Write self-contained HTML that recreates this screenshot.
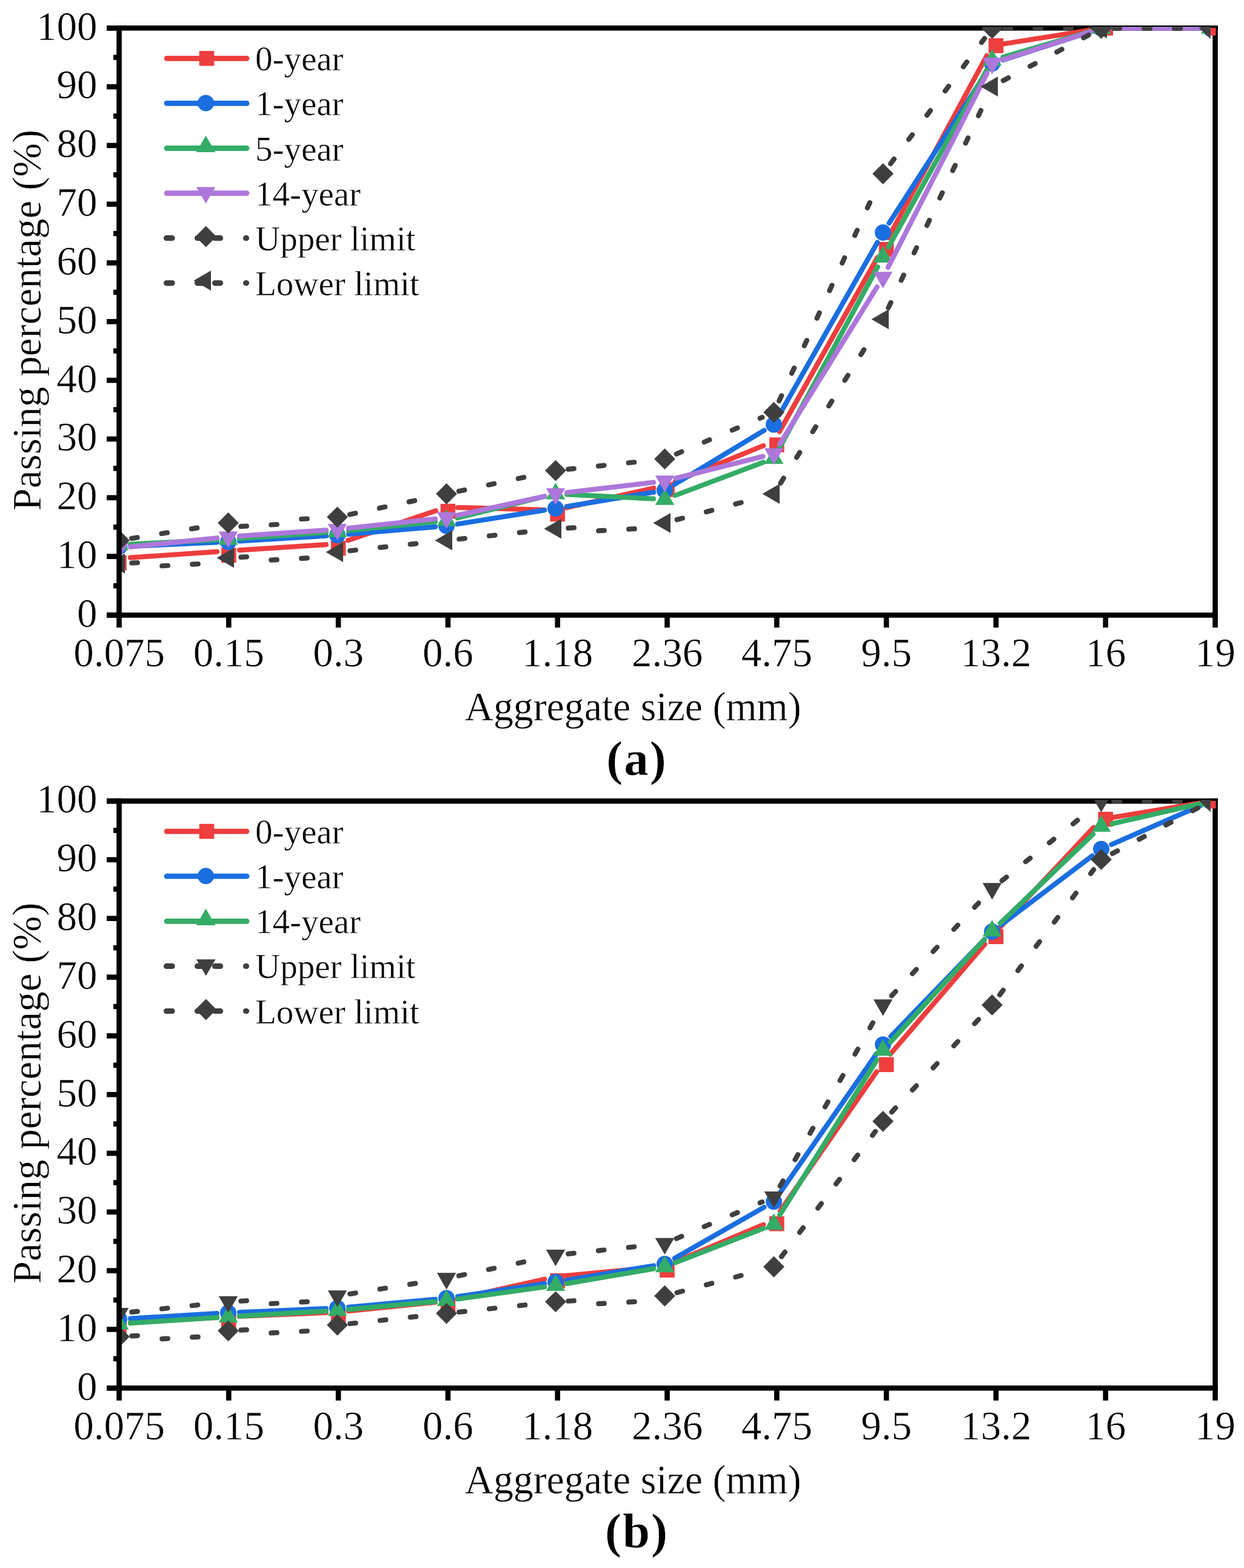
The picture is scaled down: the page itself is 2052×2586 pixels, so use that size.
<!DOCTYPE html><html><head><meta charset="utf-8"><title>Gradation curves</title><style>html,body{margin:0;padding:0;background:#fff;}svg{display:block;}text{font-family:"Liberation Serif", serif;fill:#000;stroke:#fff;stroke-width:0.5px;}.tl{font-size:67px;}.at{font-size:67px;}.lg{font-size:57px;}.pl{font-size:81px;font-weight:bold;}</style></head><body>
<svg width="2052" height="2586" viewBox="0 0 2052 2586">
<rect width="2052" height="2586" fill="#fff"/>
<clipPath id="caD"><rect x="196.5" y="44.5" width="1800" height="964.2"/></clipPath>
<clipPath id="caA"><rect x="196.5" y="46" width="1809" height="964.2"/></clipPath>
<line x1="176" y1="46.3" x2="2008.8" y2="46.3" stroke="#000" stroke-width="8.6"/>
<line x1="2004.5" y1="42" x2="2004.5" y2="1014.5" stroke="#000" stroke-width="8.6"/>
<g clip-path="url(#caD)">
<line x1="215.06" y1="919.7" x2="357.94" y2="909.8" stroke="#EE3D3E" stroke-width="8.2" stroke-linecap="round"/>
<line x1="395.06" y1="907.32" x2="537.94" y2="898.18" stroke="#EE3D3E" stroke-width="8.2" stroke-linecap="round"/>
<line x1="574.13" y1="891.07" x2="718.87" y2="842.46" stroke="#EE3D3E" stroke-width="8.2" stroke-linecap="round"/>
<line x1="755.09" y1="837.03" x2="897.91" y2="840.84" stroke="#EE3D3E" stroke-width="8.2" stroke-linecap="round"/>
<line x1="934.65" y1="837.27" x2="1078.35" y2="805.09" stroke="#EE3D3E" stroke-width="8.2" stroke-linecap="round"/>
<line x1="1113.74" y1="794.04" x2="1259.26" y2="735.07" stroke="#EE3D3E" stroke-width="8.2" stroke-linecap="round"/>
<line x1="1285.63" y1="711.88" x2="1447.37" y2="424.71" stroke="#EE3D3E" stroke-width="8.2" stroke-linecap="round"/>
<line x1="1465.34" y1="392.14" x2="1627.66" y2="91.85" stroke="#EE3D3E" stroke-width="8.2" stroke-linecap="round"/>
<line x1="1654.87" y1="72.55" x2="1798.13" y2="49.64" stroke="#EE3D3E" stroke-width="8.2" stroke-linecap="round"/>
<line x1="1835.1" y1="46.7" x2="1977.9" y2="46.7" stroke="#EE3D3E" stroke-width="8.2" stroke-linecap="round"/>
</g>
<g clip-path="url(#caA)">
<rect x="184.2" y="916.03" width="24.6" height="24.6" fill="#EE3D3E"/>
<rect x="365" y="903.44" width="24.6" height="24.6" fill="#EE3D3E"/>
<rect x="545.8" y="891.83" width="24.6" height="24.6" fill="#EE3D3E"/>
<rect x="726.6" y="830.83" width="24.6" height="24.6" fill="#EE3D3E"/>
<rect x="907.4" y="835.67" width="24.6" height="24.6" fill="#EE3D3E"/>
<rect x="1088.2" y="795.01" width="24.6" height="24.6" fill="#EE3D3E"/>
<rect x="1269" y="721.42" width="24.6" height="24.6" fill="#EE3D3E"/>
<rect x="1449.8" y="399.01" width="24.6" height="24.6" fill="#EE3D3E"/>
<rect x="1630.6" y="63.05" width="24.6" height="24.6" fill="#EE3D3E"/>
<rect x="1811.4" y="34" width="24.6" height="24.6" fill="#EE3D3E"/>
<rect x="1992.2" y="34" width="24.6" height="24.6" fill="#EE3D3E"/>
</g>
<g clip-path="url(#caD)">
<line x1="215.08" y1="900.95" x2="357.92" y2="894.48" stroke="#1A6EE0" stroke-width="8.2" stroke-linecap="round"/>
<line x1="395.07" y1="892.5" x2="537.93" y2="883.74" stroke="#1A6EE0" stroke-width="8.2" stroke-linecap="round"/>
<line x1="575.03" y1="881.02" x2="717.97" y2="868.82" stroke="#1A6EE0" stroke-width="8.2" stroke-linecap="round"/>
<line x1="754.87" y1="864.31" x2="898.13" y2="841.39" stroke="#1A6EE0" stroke-width="8.2" stroke-linecap="round"/>
<line x1="934.85" y1="835.42" x2="1078.15" y2="811.73" stroke="#1A6EE0" stroke-width="8.2" stroke-linecap="round"/>
<line x1="1112.43" y1="799.1" x2="1260.57" y2="709.85" stroke="#1A6EE0" stroke-width="8.2" stroke-linecap="round"/>
<line x1="1285.69" y1="684.09" x2="1447.31" y2="399.73" stroke="#1A6EE0" stroke-width="8.2" stroke-linecap="round"/>
<line x1="1466.59" y1="367.93" x2="1626.41" y2="120.39" stroke="#1A6EE0" stroke-width="8.2" stroke-linecap="round"/>
<line x1="1654.2" y1="99.05" x2="1798.8" y2="52.41" stroke="#1A6EE0" stroke-width="8.2" stroke-linecap="round"/>
<line x1="1835.1" y1="46.7" x2="1977.9" y2="46.7" stroke="#1A6EE0" stroke-width="8.2" stroke-linecap="round"/>
<circle cx="196.5" cy="901.79" r="13.5" fill="#1A6EE0"/>
<circle cx="376.5" cy="893.64" r="13.5" fill="#1A6EE0"/>
<circle cx="556.5" cy="882.6" r="13.5" fill="#1A6EE0"/>
<circle cx="736.5" cy="867.24" r="13.5" fill="#1A6EE0"/>
<circle cx="916.5" cy="838.45" r="13.5" fill="#1A6EE0"/>
<circle cx="1096.5" cy="808.7" r="13.5" fill="#1A6EE0"/>
<circle cx="1276.5" cy="700.26" r="13.5" fill="#1A6EE0"/>
<circle cx="1456.5" cy="383.55" r="13.5" fill="#1A6EE0"/>
<circle cx="1636.5" cy="104.76" r="13.5" fill="#1A6EE0"/>
<circle cx="1816.5" cy="46.7" r="13.5" fill="#1A6EE0"/>
<circle cx="1996.5" cy="46.7" r="13.5" fill="#1A6EE0"/>
</g>
<g clip-path="url(#caD)">
<line x1="215.08" y1="897.49" x2="357.92" y2="890.26" stroke="#33AC66" stroke-width="8.2" stroke-linecap="round"/>
<line x1="395.06" y1="888.03" x2="537.94" y2="878.13" stroke="#33AC66" stroke-width="8.2" stroke-linecap="round"/>
<line x1="575.01" y1="874.97" x2="717.99" y2="860.48" stroke="#33AC66" stroke-width="8.2" stroke-linecap="round"/>
<line x1="754.56" y1="854.18" x2="898.44" y2="818.89" stroke="#33AC66" stroke-width="8.2" stroke-linecap="round"/>
<line x1="935.08" y1="815.4" x2="1077.92" y2="822.64" stroke="#33AC66" stroke-width="8.2" stroke-linecap="round"/>
<line x1="1113.91" y1="817.03" x2="1259.09" y2="762.46" stroke="#33AC66" stroke-width="8.2" stroke-linecap="round"/>
<line x1="1285.36" y1="739.57" x2="1447.64" y2="440.21" stroke="#33AC66" stroke-width="8.2" stroke-linecap="round"/>
<line x1="1465.52" y1="407.6" x2="1627.48" y2="115.75" stroke="#33AC66" stroke-width="8.2" stroke-linecap="round"/>
<line x1="1654.35" y1="94.25" x2="1798.65" y2="51.93" stroke="#33AC66" stroke-width="8.2" stroke-linecap="round"/>
<line x1="1835.1" y1="46.7" x2="1977.9" y2="46.7" stroke="#33AC66" stroke-width="8.2" stroke-linecap="round"/>
<polygon points="196.5,880.25 212.25,907.53 180.75,907.53" fill="#33AC66"/>
<polygon points="376.5,871.13 392.25,898.41 360.75,898.41" fill="#33AC66"/>
<polygon points="556.5,858.65 572.25,885.93 540.75,885.93" fill="#33AC66"/>
<polygon points="736.5,840.42 752.25,867.7 720.75,867.7" fill="#33AC66"/>
<polygon points="916.5,796.27 932.25,823.55 900.75,823.55" fill="#33AC66"/>
<polygon points="1096.5,805.39 1112.25,832.67 1080.75,832.67" fill="#33AC66"/>
<polygon points="1276.5,737.73 1292.25,765.01 1260.75,765.01" fill="#33AC66"/>
<polygon points="1456.5,405.68 1472.25,432.96 1440.75,432.96" fill="#33AC66"/>
<polygon points="1636.5,81.3 1652.25,108.58 1620.75,108.58" fill="#33AC66"/>
<polygon points="1816.5,28.51 1832.25,55.79 1800.75,55.79" fill="#33AC66"/>
<polygon points="1996.5,28.51 2012.25,55.79 1980.75,55.79" fill="#33AC66"/>
</g>
<g clip-path="url(#caD)">
<line x1="215.01" y1="901.84" x2="357.99" y2="887.35" stroke="#AD77DB" stroke-width="8.2" stroke-linecap="round"/>
<line x1="395.06" y1="884.19" x2="537.94" y2="874.29" stroke="#AD77DB" stroke-width="8.2" stroke-linecap="round"/>
<line x1="575" y1="871.03" x2="718" y2="855.78" stroke="#AD77DB" stroke-width="8.2" stroke-linecap="round"/>
<line x1="754.67" y1="849.84" x2="898.33" y2="818.43" stroke="#AD77DB" stroke-width="8.2" stroke-linecap="round"/>
<line x1="934.97" y1="812.29" x2="1078.03" y2="795.51" stroke="#AD77DB" stroke-width="8.2" stroke-linecap="round"/>
<line x1="1114.54" y1="788.83" x2="1258.46" y2="752.76" stroke="#AD77DB" stroke-width="8.2" stroke-linecap="round"/>
<line x1="1286.29" y1="732.43" x2="1446.71" y2="473.27" stroke="#AD77DB" stroke-width="8.2" stroke-linecap="round"/>
<line x1="1464.95" y1="440.88" x2="1628.05" y2="120.85" stroke="#AD77DB" stroke-width="8.2" stroke-linecap="round"/>
<line x1="1654.22" y1="98.61" x2="1798.78" y2="52.37" stroke="#AD77DB" stroke-width="8.2" stroke-linecap="round"/>
<line x1="1835.1" y1="46.7" x2="1977.9" y2="46.7" stroke="#AD77DB" stroke-width="8.2" stroke-linecap="round"/>
<polygon points="180.75,894.62 212.25,894.62 196.5,921.9" fill="#AD77DB"/>
<polygon points="360.75,876.38 392.25,876.38 376.5,903.66" fill="#AD77DB"/>
<polygon points="540.75,863.91 572.25,863.91 556.5,891.19" fill="#AD77DB"/>
<polygon points="720.75,844.71 752.25,844.71 736.5,871.99" fill="#AD77DB"/>
<polygon points="900.75,805.37 932.25,805.37 916.5,832.65" fill="#AD77DB"/>
<polygon points="1080.75,784.25 1112.25,784.25 1096.5,811.53" fill="#AD77DB"/>
<polygon points="1260.75,739.15 1292.25,739.15 1276.5,766.43" fill="#AD77DB"/>
<polygon points="1440.75,448.36 1472.25,448.36 1456.5,475.64" fill="#AD77DB"/>
<polygon points="1620.75,95.19 1652.25,95.19 1636.5,122.47" fill="#AD77DB"/>
<polygon points="1800.75,37.61 1832.25,37.61 1816.5,64.89" fill="#AD77DB"/>
<polygon points="1980.75,37.61 2012.25,37.61 1996.5,64.89" fill="#AD77DB"/>
</g>
<g clip-path="url(#caD)">
<line x1="217.14" y1="887.94" x2="226.52" y2="886.43" stroke="#3F3F3F" stroke-width="8.2" stroke-linecap="round"/>
<line x1="266.51" y1="880.04" x2="275.89" y2="878.54" stroke="#3F3F3F" stroke-width="8.2" stroke-linecap="round"/>
<line x1="315.88" y1="872.14" x2="325.26" y2="870.64" stroke="#3F3F3F" stroke-width="8.2" stroke-linecap="round"/>
<line x1="397.37" y1="868.2" x2="406.86" y2="867.69" stroke="#3F3F3F" stroke-width="8.2" stroke-linecap="round"/>
<line x1="447.3" y1="865.52" x2="456.79" y2="865.01" stroke="#3F3F3F" stroke-width="8.2" stroke-linecap="round"/>
<line x1="497.23" y1="856.01" x2="506.72" y2="855.5" stroke="#3F3F3F" stroke-width="8.2" stroke-linecap="round"/>
<line x1="576.94" y1="848.49" x2="586.23" y2="846.51" stroke="#3F3F3F" stroke-width="8.2" stroke-linecap="round"/>
<line x1="625.84" y1="838.06" x2="635.13" y2="836.08" stroke="#3F3F3F" stroke-width="8.2" stroke-linecap="round"/>
<line x1="674.74" y1="827.63" x2="684.03" y2="825.65" stroke="#3F3F3F" stroke-width="8.2" stroke-linecap="round"/>
<line x1="756.94" y1="810.1" x2="766.23" y2="808.12" stroke="#3F3F3F" stroke-width="8.2" stroke-linecap="round"/>
<line x1="805.84" y1="799.67" x2="815.13" y2="797.69" stroke="#3F3F3F" stroke-width="8.2" stroke-linecap="round"/>
<line x1="854.74" y1="789.24" x2="864.03" y2="787.26" stroke="#3F3F3F" stroke-width="8.2" stroke-linecap="round"/>
<line x1="937.28" y1="773.86" x2="946.73" y2="772.85" stroke="#3F3F3F" stroke-width="8.2" stroke-linecap="round"/>
<line x1="987" y1="768.55" x2="996.45" y2="767.55" stroke="#3F3F3F" stroke-width="8.2" stroke-linecap="round"/>
<line x1="1036.72" y1="763.25" x2="1046.16" y2="762.25" stroke="#3F3F3F" stroke-width="8.2" stroke-linecap="round"/>
<line x1="1115.72" y1="748.68" x2="1124.46" y2="744.95" stroke="#3F3F3F" stroke-width="8.2" stroke-linecap="round"/>
<line x1="1161.72" y1="729.06" x2="1170.45" y2="725.33" stroke="#3F3F3F" stroke-width="8.2" stroke-linecap="round"/>
<line x1="1207.71" y1="709.44" x2="1216.44" y2="705.72" stroke="#3F3F3F" stroke-width="8.2" stroke-linecap="round"/>
<line x1="1253.7" y1="689.83" x2="1257.28" y2="688.3" stroke="#3F3F3F" stroke-width="8.2" stroke-linecap="round"/>
<line x1="1285.19" y1="661.1" x2="1289.15" y2="652.46" stroke="#3F3F3F" stroke-width="8.2" stroke-linecap="round"/>
<line x1="1305.99" y1="615.63" x2="1309.95" y2="606.99" stroke="#3F3F3F" stroke-width="8.2" stroke-linecap="round"/>
<line x1="1326.79" y1="570.16" x2="1330.75" y2="561.52" stroke="#3F3F3F" stroke-width="8.2" stroke-linecap="round"/>
<line x1="1347.59" y1="524.69" x2="1351.55" y2="516.05" stroke="#3F3F3F" stroke-width="8.2" stroke-linecap="round"/>
<line x1="1368.39" y1="479.22" x2="1372.35" y2="470.58" stroke="#3F3F3F" stroke-width="8.2" stroke-linecap="round"/>
<line x1="1389.19" y1="433.75" x2="1393.15" y2="425.12" stroke="#3F3F3F" stroke-width="8.2" stroke-linecap="round"/>
<line x1="1409.99" y1="388.29" x2="1413.95" y2="379.65" stroke="#3F3F3F" stroke-width="8.2" stroke-linecap="round"/>
<line x1="1430.79" y1="342.82" x2="1434.75" y2="334.18" stroke="#3F3F3F" stroke-width="8.2" stroke-linecap="round"/>
<line x1="1469.04" y1="269.91" x2="1474.74" y2="262.31" stroke="#3F3F3F" stroke-width="8.2" stroke-linecap="round"/>
<line x1="1499.05" y1="229.91" x2="1504.75" y2="222.31" stroke="#3F3F3F" stroke-width="8.2" stroke-linecap="round"/>
<line x1="1529.05" y1="189.92" x2="1534.76" y2="182.32" stroke="#3F3F3F" stroke-width="8.2" stroke-linecap="round"/>
<line x1="1559.06" y1="149.92" x2="1564.76" y2="142.32" stroke="#3F3F3F" stroke-width="8.2" stroke-linecap="round"/>
<line x1="1589.07" y1="109.92" x2="1594.77" y2="102.33" stroke="#3F3F3F" stroke-width="8.2" stroke-linecap="round"/>
<line x1="1619.07" y1="69.93" x2="1623.96" y2="63.42" stroke="#3F3F3F" stroke-width="8.2" stroke-linecap="round"/>
<line x1="1657.4" y1="46.7" x2="1666.9" y2="46.7" stroke="#3F3F3F" stroke-width="8.2" stroke-linecap="round"/>
<line x1="1707.4" y1="46.7" x2="1716.9" y2="46.7" stroke="#3F3F3F" stroke-width="8.2" stroke-linecap="round"/>
<line x1="1757.4" y1="46.7" x2="1766.9" y2="46.7" stroke="#3F3F3F" stroke-width="8.2" stroke-linecap="round"/>
<line x1="1837.4" y1="46.7" x2="1846.9" y2="46.7" stroke="#3F3F3F" stroke-width="8.2" stroke-linecap="round"/>
<line x1="1887.4" y1="46.7" x2="1896.9" y2="46.7" stroke="#3F3F3F" stroke-width="8.2" stroke-linecap="round"/>
<line x1="1937.4" y1="46.7" x2="1946.9" y2="46.7" stroke="#3F3F3F" stroke-width="8.2" stroke-linecap="round"/>
<polygon points="196.5,873.84 213.9,891.24 196.5,908.64 179.1,891.24" fill="#3F3F3F"/>
<polygon points="376.5,845.04 393.9,862.44 376.5,879.84 359.1,862.44" fill="#3F3F3F"/>
<polygon points="556.5,835.45 573.9,852.85 556.5,870.25 539.1,852.85" fill="#3F3F3F"/>
<polygon points="736.5,797.06 753.9,814.46 736.5,831.86 719.1,814.46" fill="#3F3F3F"/>
<polygon points="916.5,758.67 933.9,776.07 916.5,793.47 899.1,776.07" fill="#3F3F3F"/>
<polygon points="1096.5,739.48 1113.9,756.88 1096.5,774.28 1079.1,756.88" fill="#3F3F3F"/>
<polygon points="1276.5,662.7 1293.9,680.1 1276.5,697.5 1259.1,680.1" fill="#3F3F3F"/>
<polygon points="1456.5,269.23 1473.9,286.62 1456.5,304.02 1439.1,286.62" fill="#3F3F3F"/>
<polygon points="1636.5,29.3 1653.9,46.7 1636.5,64.1 1619.1,46.7" fill="#3F3F3F"/>
<polygon points="1816.5,29.3 1833.9,46.7 1816.5,64.1 1799.1,46.7" fill="#3F3F3F"/>
<polygon points="1996.5,29.3 2013.9,46.7 1996.5,64.1 1979.1,46.7" fill="#3F3F3F"/>
</g>
<g clip-path="url(#caD)">
<line x1="217.37" y1="928.51" x2="226.86" y2="928.01" stroke="#3F3F3F" stroke-width="8.2" stroke-linecap="round"/>
<line x1="267.3" y1="933.25" x2="276.79" y2="932.74" stroke="#3F3F3F" stroke-width="8.2" stroke-linecap="round"/>
<line x1="317.23" y1="930.58" x2="326.72" y2="930.07" stroke="#3F3F3F" stroke-width="8.2" stroke-linecap="round"/>
<line x1="397.37" y1="918.91" x2="406.86" y2="918.41" stroke="#3F3F3F" stroke-width="8.2" stroke-linecap="round"/>
<line x1="447.3" y1="923.61" x2="456.79" y2="923.11" stroke="#3F3F3F" stroke-width="8.2" stroke-linecap="round"/>
<line x1="497.23" y1="920.94" x2="506.72" y2="920.43" stroke="#3F3F3F" stroke-width="8.2" stroke-linecap="round"/>
<line x1="577.28" y1="908.21" x2="586.73" y2="907.21" stroke="#3F3F3F" stroke-width="8.2" stroke-linecap="round"/>
<line x1="627" y1="902.91" x2="636.45" y2="901.91" stroke="#3F3F3F" stroke-width="8.2" stroke-linecap="round"/>
<line x1="676.72" y1="897.61" x2="686.16" y2="896.6" stroke="#3F3F3F" stroke-width="8.2" stroke-linecap="round"/>
<line x1="757.28" y1="889.02" x2="766.73" y2="888.01" stroke="#3F3F3F" stroke-width="8.2" stroke-linecap="round"/>
<line x1="807" y1="883.72" x2="816.45" y2="882.71" stroke="#3F3F3F" stroke-width="8.2" stroke-linecap="round"/>
<line x1="856.72" y1="878.42" x2="866.16" y2="877.41" stroke="#3F3F3F" stroke-width="8.2" stroke-linecap="round"/>
<line x1="937.37" y1="870.93" x2="946.86" y2="870.42" stroke="#3F3F3F" stroke-width="8.2" stroke-linecap="round"/>
<line x1="987.3" y1="875.33" x2="996.79" y2="874.82" stroke="#3F3F3F" stroke-width="8.2" stroke-linecap="round"/>
<line x1="1037.23" y1="872.66" x2="1046.72" y2="872.15" stroke="#3F3F3F" stroke-width="8.2" stroke-linecap="round"/>
<line x1="1116.69" y1="857.06" x2="1125.87" y2="854.61" stroke="#3F3F3F" stroke-width="8.2" stroke-linecap="round"/>
<line x1="1165.01" y1="844.18" x2="1174.19" y2="841.73" stroke="#3F3F3F" stroke-width="8.2" stroke-linecap="round"/>
<line x1="1213.32" y1="831.3" x2="1222.5" y2="828.86" stroke="#3F3F3F" stroke-width="8.2" stroke-linecap="round"/>
<line x1="1287.58" y1="796.74" x2="1292.62" y2="788.68" stroke="#3F3F3F" stroke-width="8.2" stroke-linecap="round"/>
<line x1="1314.09" y1="754.34" x2="1319.12" y2="746.29" stroke="#3F3F3F" stroke-width="8.2" stroke-linecap="round"/>
<line x1="1340.59" y1="711.95" x2="1345.63" y2="703.89" stroke="#3F3F3F" stroke-width="8.2" stroke-linecap="round"/>
<line x1="1367.1" y1="669.55" x2="1372.13" y2="661.49" stroke="#3F3F3F" stroke-width="8.2" stroke-linecap="round"/>
<line x1="1393.6" y1="627.15" x2="1398.64" y2="619.1" stroke="#3F3F3F" stroke-width="8.2" stroke-linecap="round"/>
<line x1="1420.11" y1="584.76" x2="1425.15" y2="576.7" stroke="#3F3F3F" stroke-width="8.2" stroke-linecap="round"/>
<line x1="1465.37" y1="507.63" x2="1469.41" y2="499.03" stroke="#3F3F3F" stroke-width="8.2" stroke-linecap="round"/>
<line x1="1486.6" y1="462.36" x2="1490.63" y2="453.76" stroke="#3F3F3F" stroke-width="8.2" stroke-linecap="round"/>
<line x1="1507.83" y1="417.09" x2="1511.86" y2="408.48" stroke="#3F3F3F" stroke-width="8.2" stroke-linecap="round"/>
<line x1="1529.05" y1="371.82" x2="1533.09" y2="363.21" stroke="#3F3F3F" stroke-width="8.2" stroke-linecap="round"/>
<line x1="1550.28" y1="326.55" x2="1554.31" y2="317.94" stroke="#3F3F3F" stroke-width="8.2" stroke-linecap="round"/>
<line x1="1571.51" y1="281.27" x2="1575.54" y2="272.67" stroke="#3F3F3F" stroke-width="8.2" stroke-linecap="round"/>
<line x1="1592.74" y1="236" x2="1596.77" y2="227.4" stroke="#3F3F3F" stroke-width="8.2" stroke-linecap="round"/>
<line x1="1613.96" y1="190.73" x2="1618" y2="182.13" stroke="#3F3F3F" stroke-width="8.2" stroke-linecap="round"/>
<line x1="1654.94" y1="132.84" x2="1663.33" y2="128.37" stroke="#3F3F3F" stroke-width="8.2" stroke-linecap="round"/>
<line x1="1699.06" y1="109.31" x2="1707.45" y2="104.84" stroke="#3F3F3F" stroke-width="8.2" stroke-linecap="round"/>
<line x1="1743.18" y1="85.79" x2="1751.57" y2="81.32" stroke="#3F3F3F" stroke-width="8.2" stroke-linecap="round"/>
<line x1="1787.3" y1="62.27" x2="1795.69" y2="57.8" stroke="#3F3F3F" stroke-width="8.2" stroke-linecap="round"/>
<line x1="1837.4" y1="46.7" x2="1846.9" y2="46.7" stroke="#3F3F3F" stroke-width="8.2" stroke-linecap="round"/>
<line x1="1887.4" y1="46.7" x2="1896.9" y2="46.7" stroke="#3F3F3F" stroke-width="8.2" stroke-linecap="round"/>
<line x1="1937.4" y1="46.7" x2="1946.9" y2="46.7" stroke="#3F3F3F" stroke-width="8.2" stroke-linecap="round"/>
<polygon points="177.45,929.62 206.03,913.12 206.03,946.12" fill="#3F3F3F"/>
<polygon points="357.45,920.03 386.03,903.53 386.03,936.53" fill="#3F3F3F"/>
<polygon points="537.45,910.43 566.03,893.93 566.03,926.93" fill="#3F3F3F"/>
<polygon points="717.45,891.24 746.03,874.74 746.03,907.74" fill="#3F3F3F"/>
<polygon points="897.45,872.04 926.03,855.54 926.03,888.54" fill="#3F3F3F"/>
<polygon points="1077.45,862.44 1106.03,845.94 1106.03,878.94" fill="#3F3F3F"/>
<polygon points="1257.45,814.46 1286.03,797.96 1286.03,830.96" fill="#3F3F3F"/>
<polygon points="1437.45,526.55 1466.03,510.05 1466.03,543.05" fill="#3F3F3F"/>
<polygon points="1617.45,142.67 1646.03,126.17 1646.03,159.17" fill="#3F3F3F"/>
<polygon points="1797.45,46.7 1826.03,30.2 1826.03,63.2" fill="#3F3F3F"/>
<polygon points="1977.45,46.7 2006.03,30.2 2006.03,63.2" fill="#3F3F3F"/>
</g>
<line x1="196.5" y1="42" x2="196.5" y2="1018.8" stroke="#000" stroke-width="8.6"/>
<line x1="176" y1="1014.5" x2="2008.8" y2="1014.5" stroke="#000" stroke-width="8.6"/>
<line x1="176" y1="1014.5" x2="196.5" y2="1014.5" stroke="#000" stroke-width="8.6"/>
<line x1="187" y1="966.09" x2="196.5" y2="966.09" stroke="#000" stroke-width="8.6"/>
<line x1="176" y1="917.68" x2="196.5" y2="917.68" stroke="#000" stroke-width="8.6"/>
<line x1="187" y1="869.27" x2="196.5" y2="869.27" stroke="#000" stroke-width="8.6"/>
<line x1="176" y1="820.86" x2="196.5" y2="820.86" stroke="#000" stroke-width="8.6"/>
<line x1="187" y1="772.45" x2="196.5" y2="772.45" stroke="#000" stroke-width="8.6"/>
<line x1="176" y1="724.04" x2="196.5" y2="724.04" stroke="#000" stroke-width="8.6"/>
<line x1="187" y1="675.63" x2="196.5" y2="675.63" stroke="#000" stroke-width="8.6"/>
<line x1="176" y1="627.22" x2="196.5" y2="627.22" stroke="#000" stroke-width="8.6"/>
<line x1="187" y1="578.81" x2="196.5" y2="578.81" stroke="#000" stroke-width="8.6"/>
<line x1="176" y1="530.4" x2="196.5" y2="530.4" stroke="#000" stroke-width="8.6"/>
<line x1="187" y1="481.99" x2="196.5" y2="481.99" stroke="#000" stroke-width="8.6"/>
<line x1="176" y1="433.58" x2="196.5" y2="433.58" stroke="#000" stroke-width="8.6"/>
<line x1="187" y1="385.17" x2="196.5" y2="385.17" stroke="#000" stroke-width="8.6"/>
<line x1="176" y1="336.76" x2="196.5" y2="336.76" stroke="#000" stroke-width="8.6"/>
<line x1="187" y1="288.35" x2="196.5" y2="288.35" stroke="#000" stroke-width="8.6"/>
<line x1="176" y1="239.94" x2="196.5" y2="239.94" stroke="#000" stroke-width="8.6"/>
<line x1="187" y1="191.53" x2="196.5" y2="191.53" stroke="#000" stroke-width="8.6"/>
<line x1="176" y1="143.12" x2="196.5" y2="143.12" stroke="#000" stroke-width="8.6"/>
<line x1="187" y1="94.71" x2="196.5" y2="94.71" stroke="#000" stroke-width="8.6"/>
<line x1="176" y1="46.3" x2="196.5" y2="46.3" stroke="#000" stroke-width="8.6"/>
<line x1="196.5" y1="1014.5" x2="196.5" y2="1035" stroke="#000" stroke-width="8.6"/>
<line x1="377.3" y1="1014.5" x2="377.3" y2="1035" stroke="#000" stroke-width="8.6"/>
<line x1="558.1" y1="1014.5" x2="558.1" y2="1035" stroke="#000" stroke-width="8.6"/>
<line x1="738.9" y1="1014.5" x2="738.9" y2="1035" stroke="#000" stroke-width="8.6"/>
<line x1="919.7" y1="1014.5" x2="919.7" y2="1035" stroke="#000" stroke-width="8.6"/>
<line x1="1100.5" y1="1014.5" x2="1100.5" y2="1035" stroke="#000" stroke-width="8.6"/>
<line x1="1281.3" y1="1014.5" x2="1281.3" y2="1035" stroke="#000" stroke-width="8.6"/>
<line x1="1462.1" y1="1014.5" x2="1462.1" y2="1035" stroke="#000" stroke-width="8.6"/>
<line x1="1642.9" y1="1014.5" x2="1642.9" y2="1035" stroke="#000" stroke-width="8.6"/>
<line x1="1823.7" y1="1014.5" x2="1823.7" y2="1035" stroke="#000" stroke-width="8.6"/>
<line x1="2004.5" y1="1014.5" x2="2004.5" y2="1035" stroke="#000" stroke-width="8.6"/>
<text x="160.5" y="1033.8" text-anchor="end" class="tl">0</text>
<text x="160.5" y="936.98" text-anchor="end" class="tl">10</text>
<text x="160.5" y="840.16" text-anchor="end" class="tl">20</text>
<text x="160.5" y="743.34" text-anchor="end" class="tl">30</text>
<text x="160.5" y="646.52" text-anchor="end" class="tl">40</text>
<text x="160.5" y="549.7" text-anchor="end" class="tl">50</text>
<text x="160.5" y="452.88" text-anchor="end" class="tl">60</text>
<text x="160.5" y="356.06" text-anchor="end" class="tl">70</text>
<text x="160.5" y="259.24" text-anchor="end" class="tl">80</text>
<text x="160.5" y="162.42" text-anchor="end" class="tl">90</text>
<text x="160.5" y="65.6" text-anchor="end" class="tl">100</text>
<text x="196.5" y="1099.2" text-anchor="middle" class="tl">0.075</text>
<text x="377.3" y="1099.2" text-anchor="middle" class="tl">0.15</text>
<text x="558.1" y="1099.2" text-anchor="middle" class="tl">0.3</text>
<text x="738.9" y="1099.2" text-anchor="middle" class="tl">0.6</text>
<text x="919.7" y="1099.2" text-anchor="middle" class="tl">1.18</text>
<text x="1100.5" y="1099.2" text-anchor="middle" class="tl">2.36</text>
<text x="1281.3" y="1099.2" text-anchor="middle" class="tl">4.75</text>
<text x="1462.1" y="1099.2" text-anchor="middle" class="tl">9.5</text>
<text x="1642.9" y="1099.2" text-anchor="middle" class="tl">13.2</text>
<text x="1823.7" y="1099.2" text-anchor="middle" class="tl">16</text>
<text x="2004.5" y="1099.2" text-anchor="middle" class="tl">19</text>
<text transform="translate(1044,1188.4) scale(0.982,1)" text-anchor="middle" class="at">Aggregate size (mm)</text>
<text transform="translate(66.8,528) rotate(-90)" text-anchor="middle" class="at">Passing percentage (%)</text>
<text x="1050.5" y="1277.5" text-anchor="middle" class="pl" letter-spacing="2">(a)</text>
<line x1="275" y1="96.3" x2="407" y2="96.3" stroke="#EE3D3E" stroke-width="8.8" stroke-linecap="round"/>
<rect x="328.7" y="84" width="24.6" height="24.6" fill="#EE3D3E"/>
<text x="421" y="116.3" class="lg">0-year</text>
<line x1="275" y1="170.4" x2="407" y2="170.4" stroke="#1A6EE0" stroke-width="8.8" stroke-linecap="round"/>
<circle cx="339.5" cy="169.9" r="13.5" fill="#1A6EE0"/>
<text x="421" y="190.4" class="lg">1-year</text>
<line x1="275" y1="244.5" x2="407" y2="244.5" stroke="#33AC66" stroke-width="8.8" stroke-linecap="round"/>
<polygon points="339.5,223.81 355.25,251.09 323.75,251.09" fill="#33AC66"/>
<text x="421" y="264.5" class="lg">5-year</text>
<line x1="275" y1="318.6" x2="407" y2="318.6" stroke="#AD77DB" stroke-width="8.8" stroke-linecap="round"/>
<polygon points="323.75,308.51 355.25,308.51 339.5,335.79" fill="#AD77DB"/>
<text x="421" y="338.6" class="lg">14-year</text>
<line x1="274.5" y1="392.7" x2="284" y2="392.7" stroke="#3F3F3F" stroke-width="9.2" stroke-linecap="round"/>
<line x1="325.5" y1="392.7" x2="334" y2="392.7" stroke="#3F3F3F" stroke-width="9.2" stroke-linecap="round"/>
<line x1="354.5" y1="392.7" x2="363.5" y2="392.7" stroke="#3F3F3F" stroke-width="9.2" stroke-linecap="round"/>
<line x1="405.5" y1="392.7" x2="406.5" y2="392.7" stroke="#3F3F3F" stroke-width="9.2" stroke-linecap="round"/>
<polygon points="339.7,372.8 357.1,390.2 339.7,407.6 322.3,390.2" fill="#3F3F3F"/>
<text x="421" y="412.7" class="lg">Upper limit</text>
<line x1="274.5" y1="466.8" x2="284" y2="466.8" stroke="#3F3F3F" stroke-width="9.2" stroke-linecap="round"/>
<line x1="325.5" y1="466.8" x2="334" y2="466.8" stroke="#3F3F3F" stroke-width="9.2" stroke-linecap="round"/>
<line x1="354.5" y1="466.8" x2="363.5" y2="466.8" stroke="#3F3F3F" stroke-width="9.2" stroke-linecap="round"/>
<line x1="405.5" y1="466.8" x2="406.5" y2="466.8" stroke="#3F3F3F" stroke-width="9.2" stroke-linecap="round"/>
<polygon points="319.45,462.8 348.03,446.3 348.03,479.3" fill="#3F3F3F"/>
<text x="421" y="486.8" class="lg">Lower limit</text>
<clipPath id="cbD"><rect x="196.5" y="1319.3" width="1800" height="964.2"/></clipPath>
<clipPath id="cbA"><rect x="196.5" y="1320.8" width="1809" height="964.2"/></clipPath>
<line x1="176" y1="1321.1" x2="2008.8" y2="1321.1" stroke="#000" stroke-width="8.6"/>
<line x1="2004.5" y1="1316.8" x2="2004.5" y2="2289.3" stroke="#000" stroke-width="8.6"/>
<g clip-path="url(#cbD)">
<line x1="215.07" y1="2181.26" x2="357.93" y2="2172.88" stroke="#EE3D3E" stroke-width="8.2" stroke-linecap="round"/>
<line x1="395.08" y1="2171" x2="537.92" y2="2164.91" stroke="#EE3D3E" stroke-width="8.2" stroke-linecap="round"/>
<line x1="575.01" y1="2162.24" x2="717.99" y2="2147.76" stroke="#EE3D3E" stroke-width="8.2" stroke-linecap="round"/>
<line x1="754.65" y1="2141.82" x2="898.35" y2="2109.64" stroke="#EE3D3E" stroke-width="8.2" stroke-linecap="round"/>
<line x1="935.01" y1="2103.8" x2="1077.99" y2="2090.08" stroke="#EE3D3E" stroke-width="8.2" stroke-linecap="round"/>
<line x1="1113.64" y1="2081.08" x2="1259.36" y2="2019.7" stroke="#EE3D3E" stroke-width="8.2" stroke-linecap="round"/>
<line x1="1287.09" y1="1997.19" x2="1445.91" y2="1767.7" stroke="#EE3D3E" stroke-width="8.2" stroke-linecap="round"/>
<line x1="1468.63" y1="1738.31" x2="1624.37" y2="1557.29" stroke="#EE3D3E" stroke-width="8.2" stroke-linecap="round"/>
<line x1="1649.22" y1="1529.62" x2="1803.78" y2="1364.82" stroke="#EE3D3E" stroke-width="8.2" stroke-linecap="round"/>
<line x1="1834.85" y1="1348.22" x2="1978.15" y2="1324.53" stroke="#EE3D3E" stroke-width="8.2" stroke-linecap="round"/>
</g>
<g clip-path="url(#cbA)">
<rect x="184.2" y="2177.28" width="24.6" height="24.6" fill="#EE3D3E"/>
<rect x="365" y="2166.63" width="24.6" height="24.6" fill="#EE3D3E"/>
<rect x="545.8" y="2158.88" width="24.6" height="24.6" fill="#EE3D3E"/>
<rect x="726.6" y="2140.48" width="24.6" height="24.6" fill="#EE3D3E"/>
<rect x="907.4" y="2099.82" width="24.6" height="24.6" fill="#EE3D3E"/>
<rect x="1088.2" y="2082.39" width="24.6" height="24.6" fill="#EE3D3E"/>
<rect x="1269" y="2005.9" width="24.6" height="24.6" fill="#EE3D3E"/>
<rect x="1449.8" y="1743.52" width="24.6" height="24.6" fill="#EE3D3E"/>
<rect x="1630.6" y="1532.45" width="24.6" height="24.6" fill="#EE3D3E"/>
<rect x="1811.4" y="1338.81" width="24.6" height="24.6" fill="#EE3D3E"/>
<rect x="1992.2" y="1308.8" width="24.6" height="24.6" fill="#EE3D3E"/>
</g>
<g clip-path="url(#cbD)">
<line x1="215.07" y1="2174.54" x2="357.93" y2="2166.17" stroke="#1A6EE0" stroke-width="8.2" stroke-linecap="round"/>
<line x1="395.08" y1="2164.28" x2="537.92" y2="2158.19" stroke="#1A6EE0" stroke-width="8.2" stroke-linecap="round"/>
<line x1="575.02" y1="2155.72" x2="717.98" y2="2142.76" stroke="#1A6EE0" stroke-width="8.2" stroke-linecap="round"/>
<line x1="754.9" y1="2138.34" x2="898.1" y2="2116.96" stroke="#1A6EE0" stroke-width="8.2" stroke-linecap="round"/>
<line x1="934.85" y1="2111.18" x2="1078.15" y2="2087.49" stroke="#1A6EE0" stroke-width="8.2" stroke-linecap="round"/>
<line x1="1112.66" y1="2075.24" x2="1260.34" y2="1990.99" stroke="#1A6EE0" stroke-width="8.2" stroke-linecap="round"/>
<line x1="1287.11" y1="1966.5" x2="1445.89" y2="1737.93" stroke="#1A6EE0" stroke-width="8.2" stroke-linecap="round"/>
<line x1="1469.43" y1="1709.28" x2="1623.57" y2="1549.85" stroke="#1A6EE0" stroke-width="8.2" stroke-linecap="round"/>
<line x1="1651.33" y1="1525.25" x2="1801.67" y2="1411.42" stroke="#1A6EE0" stroke-width="8.2" stroke-linecap="round"/>
<line x1="1833.54" y1="1392.74" x2="1979.46" y2="1328.95" stroke="#1A6EE0" stroke-width="8.2" stroke-linecap="round"/>
<circle cx="196.5" cy="2175.63" r="13.5" fill="#1A6EE0"/>
<circle cx="376.5" cy="2165.08" r="13.5" fill="#1A6EE0"/>
<circle cx="556.5" cy="2157.4" r="13.5" fill="#1A6EE0"/>
<circle cx="736.5" cy="2141.08" r="13.5" fill="#1A6EE0"/>
<circle cx="916.5" cy="2114.21" r="13.5" fill="#1A6EE0"/>
<circle cx="1096.5" cy="2084.46" r="13.5" fill="#1A6EE0"/>
<circle cx="1276.5" cy="1981.77" r="13.5" fill="#1A6EE0"/>
<circle cx="1456.5" cy="1722.65" r="13.5" fill="#1A6EE0"/>
<circle cx="1636.5" cy="1536.47" r="13.5" fill="#1A6EE0"/>
<circle cx="1816.5" cy="1400.2" r="13.5" fill="#1A6EE0"/>
<circle cx="1996.5" cy="1321.5" r="13.5" fill="#1A6EE0"/>
</g>
<g clip-path="url(#cbD)">
<line x1="215.06" y1="2182.12" x2="357.94" y2="2172.98" stroke="#33AC66" stroke-width="8.2" stroke-linecap="round"/>
<line x1="395.07" y1="2170.71" x2="537.93" y2="2162.33" stroke="#33AC66" stroke-width="8.2" stroke-linecap="round"/>
<line x1="575.02" y1="2159.56" x2="717.98" y2="2146.6" stroke="#33AC66" stroke-width="8.2" stroke-linecap="round"/>
<line x1="754.92" y1="2142.37" x2="898.08" y2="2122.52" stroke="#33AC66" stroke-width="8.2" stroke-linecap="round"/>
<line x1="934.84" y1="2116.84" x2="1078.16" y2="2092.39" stroke="#33AC66" stroke-width="8.2" stroke-linecap="round"/>
<line x1="1113.83" y1="2082.51" x2="1259.17" y2="2025.95" stroke="#33AC66" stroke-width="8.2" stroke-linecap="round"/>
<line x1="1286.38" y1="2003.45" x2="1446.62" y2="1748.01" stroke="#33AC66" stroke-width="8.2" stroke-linecap="round"/>
<line x1="1469.06" y1="1718.53" x2="1623.94" y2="1549.24" stroke="#33AC66" stroke-width="8.2" stroke-linecap="round"/>
<line x1="1649.92" y1="1522.63" x2="1803.08" y2="1375.65" stroke="#33AC66" stroke-width="8.2" stroke-linecap="round"/>
<line x1="1834.63" y1="1358.61" x2="1978.37" y2="1325.66" stroke="#33AC66" stroke-width="8.2" stroke-linecap="round"/>
<polygon points="196.5,2165.12 212.25,2192.4 180.75,2192.4" fill="#33AC66"/>
<polygon points="376.5,2153.61 392.25,2180.89 360.75,2180.89" fill="#33AC66"/>
<polygon points="556.5,2143.05 572.25,2170.33 540.75,2170.33" fill="#33AC66"/>
<polygon points="736.5,2126.74 752.25,2154.02 720.75,2154.02" fill="#33AC66"/>
<polygon points="916.5,2101.78 932.25,2129.06 900.75,2129.06" fill="#33AC66"/>
<polygon points="1096.5,2071.07 1112.25,2098.35 1080.75,2098.35" fill="#33AC66"/>
<polygon points="1276.5,2001.02 1292.25,2028.3 1260.75,2028.3" fill="#33AC66"/>
<polygon points="1456.5,1714.07 1472.25,1741.34 1440.75,1741.34" fill="#33AC66"/>
<polygon points="1636.5,1517.33 1652.25,1544.61 1620.75,1544.61" fill="#33AC66"/>
<polygon points="1816.5,1344.58 1832.25,1371.86 1800.75,1371.86" fill="#33AC66"/>
<polygon points="1996.5,1303.31 2012.25,1330.59 1980.75,1330.59" fill="#33AC66"/>
</g>
<g clip-path="url(#cbD)">
<line x1="217.28" y1="2163.82" x2="226.73" y2="2162.81" stroke="#3F3F3F" stroke-width="8.2" stroke-linecap="round"/>
<line x1="267" y1="2158.52" x2="276.45" y2="2157.51" stroke="#3F3F3F" stroke-width="8.2" stroke-linecap="round"/>
<line x1="316.72" y1="2153.22" x2="326.16" y2="2152.21" stroke="#3F3F3F" stroke-width="8.2" stroke-linecap="round"/>
<line x1="397.37" y1="2145.73" x2="406.86" y2="2145.22" stroke="#3F3F3F" stroke-width="8.2" stroke-linecap="round"/>
<line x1="447.3" y1="2150" x2="456.79" y2="2149.5" stroke="#3F3F3F" stroke-width="8.2" stroke-linecap="round"/>
<line x1="497.23" y1="2147.33" x2="506.72" y2="2146.82" stroke="#3F3F3F" stroke-width="8.2" stroke-linecap="round"/>
<line x1="577.14" y1="2133.94" x2="586.52" y2="2132.44" stroke="#3F3F3F" stroke-width="8.2" stroke-linecap="round"/>
<line x1="626.51" y1="2126.05" x2="635.89" y2="2124.55" stroke="#3F3F3F" stroke-width="8.2" stroke-linecap="round"/>
<line x1="675.88" y1="2118.15" x2="685.26" y2="2116.65" stroke="#3F3F3F" stroke-width="8.2" stroke-linecap="round"/>
<line x1="756.94" y1="2104.09" x2="766.23" y2="2102.11" stroke="#3F3F3F" stroke-width="8.2" stroke-linecap="round"/>
<line x1="805.84" y1="2093.67" x2="815.13" y2="2091.68" stroke="#3F3F3F" stroke-width="8.2" stroke-linecap="round"/>
<line x1="854.74" y1="2083.24" x2="864.03" y2="2081.26" stroke="#3F3F3F" stroke-width="8.2" stroke-linecap="round"/>
<line x1="937.28" y1="2067.85" x2="946.73" y2="2066.84" stroke="#3F3F3F" stroke-width="8.2" stroke-linecap="round"/>
<line x1="987" y1="2062.55" x2="996.45" y2="2061.54" stroke="#3F3F3F" stroke-width="8.2" stroke-linecap="round"/>
<line x1="1036.72" y1="2057.25" x2="1046.16" y2="2056.24" stroke="#3F3F3F" stroke-width="8.2" stroke-linecap="round"/>
<line x1="1115.72" y1="2042.67" x2="1124.46" y2="2038.95" stroke="#3F3F3F" stroke-width="8.2" stroke-linecap="round"/>
<line x1="1161.72" y1="2023.06" x2="1170.45" y2="2019.33" stroke="#3F3F3F" stroke-width="8.2" stroke-linecap="round"/>
<line x1="1207.71" y1="2003.44" x2="1216.44" y2="1999.71" stroke="#3F3F3F" stroke-width="8.2" stroke-linecap="round"/>
<line x1="1253.7" y1="1983.82" x2="1257.28" y2="1982.3" stroke="#3F3F3F" stroke-width="8.2" stroke-linecap="round"/>
<line x1="1286.83" y1="1955.93" x2="1291.52" y2="1947.67" stroke="#3F3F3F" stroke-width="8.2" stroke-linecap="round"/>
<line x1="1311.53" y1="1912.46" x2="1316.23" y2="1904.2" stroke="#3F3F3F" stroke-width="8.2" stroke-linecap="round"/>
<line x1="1336.24" y1="1868.99" x2="1340.93" y2="1860.73" stroke="#3F3F3F" stroke-width="8.2" stroke-linecap="round"/>
<line x1="1360.95" y1="1825.52" x2="1365.64" y2="1817.26" stroke="#3F3F3F" stroke-width="8.2" stroke-linecap="round"/>
<line x1="1385.65" y1="1782.05" x2="1390.35" y2="1773.79" stroke="#3F3F3F" stroke-width="8.2" stroke-linecap="round"/>
<line x1="1410.36" y1="1738.58" x2="1415.05" y2="1730.32" stroke="#3F3F3F" stroke-width="8.2" stroke-linecap="round"/>
<line x1="1435.07" y1="1695.11" x2="1439.76" y2="1686.85" stroke="#3F3F3F" stroke-width="8.2" stroke-linecap="round"/>
<line x1="1470.8" y1="1642.15" x2="1477.3" y2="1635.22" stroke="#3F3F3F" stroke-width="8.2" stroke-linecap="round"/>
<line x1="1505" y1="1605.68" x2="1511.5" y2="1598.75" stroke="#3F3F3F" stroke-width="8.2" stroke-linecap="round"/>
<line x1="1539.2" y1="1569.21" x2="1545.7" y2="1562.28" stroke="#3F3F3F" stroke-width="8.2" stroke-linecap="round"/>
<line x1="1573.4" y1="1532.74" x2="1579.9" y2="1525.81" stroke="#3F3F3F" stroke-width="8.2" stroke-linecap="round"/>
<line x1="1607.61" y1="1496.26" x2="1614.11" y2="1489.33" stroke="#3F3F3F" stroke-width="8.2" stroke-linecap="round"/>
<line x1="1652.82" y1="1452.4" x2="1660.24" y2="1446.47" stroke="#3F3F3F" stroke-width="8.2" stroke-linecap="round"/>
<line x1="1691.87" y1="1421.17" x2="1699.29" y2="1415.24" stroke="#3F3F3F" stroke-width="8.2" stroke-linecap="round"/>
<line x1="1730.92" y1="1389.94" x2="1738.34" y2="1384.01" stroke="#3F3F3F" stroke-width="8.2" stroke-linecap="round"/>
<line x1="1769.97" y1="1358.71" x2="1777.39" y2="1352.78" stroke="#3F3F3F" stroke-width="8.2" stroke-linecap="round"/>
<line x1="1837.4" y1="1321.5" x2="1846.9" y2="1321.5" stroke="#3F3F3F" stroke-width="8.2" stroke-linecap="round"/>
<line x1="1887.4" y1="1321.5" x2="1896.9" y2="1321.5" stroke="#3F3F3F" stroke-width="8.2" stroke-linecap="round"/>
<line x1="1937.4" y1="1321.5" x2="1946.9" y2="1321.5" stroke="#3F3F3F" stroke-width="8.2" stroke-linecap="round"/>
<polygon points="180.75,2156.94 212.25,2156.94 196.5,2184.22" fill="#3F3F3F"/>
<polygon points="360.75,2137.75 392.25,2137.75 376.5,2165.03" fill="#3F3F3F"/>
<polygon points="540.75,2128.15 572.25,2128.15 556.5,2155.43" fill="#3F3F3F"/>
<polygon points="720.75,2099.36 752.25,2099.36 736.5,2126.64" fill="#3F3F3F"/>
<polygon points="900.75,2060.97 932.25,2060.97 916.5,2088.25" fill="#3F3F3F"/>
<polygon points="1080.75,2041.78 1112.25,2041.78 1096.5,2069.06" fill="#3F3F3F"/>
<polygon points="1260.75,1965 1292.25,1965 1276.5,1992.28" fill="#3F3F3F"/>
<polygon points="1440.75,1648.3 1472.25,1648.3 1456.5,1675.58" fill="#3F3F3F"/>
<polygon points="1620.75,1456.36 1652.25,1456.36 1636.5,1483.64" fill="#3F3F3F"/>
<polygon points="1800.75,1312.41 1832.25,1312.41 1816.5,1339.69" fill="#3F3F3F"/>
<polygon points="1980.75,1312.41 2012.25,1312.41 1996.5,1339.69" fill="#3F3F3F"/>
</g>
<g clip-path="url(#cbD)">
<line x1="217.37" y1="2203.31" x2="226.86" y2="2202.81" stroke="#3F3F3F" stroke-width="8.2" stroke-linecap="round"/>
<line x1="267.3" y1="2208.05" x2="276.79" y2="2207.54" stroke="#3F3F3F" stroke-width="8.2" stroke-linecap="round"/>
<line x1="317.23" y1="2205.38" x2="326.72" y2="2204.87" stroke="#3F3F3F" stroke-width="8.2" stroke-linecap="round"/>
<line x1="397.37" y1="2193.71" x2="406.86" y2="2193.21" stroke="#3F3F3F" stroke-width="8.2" stroke-linecap="round"/>
<line x1="447.3" y1="2198.41" x2="456.79" y2="2197.91" stroke="#3F3F3F" stroke-width="8.2" stroke-linecap="round"/>
<line x1="497.23" y1="2195.74" x2="506.72" y2="2195.23" stroke="#3F3F3F" stroke-width="8.2" stroke-linecap="round"/>
<line x1="577.28" y1="2183.01" x2="586.73" y2="2182.01" stroke="#3F3F3F" stroke-width="8.2" stroke-linecap="round"/>
<line x1="627" y1="2177.71" x2="636.45" y2="2176.71" stroke="#3F3F3F" stroke-width="8.2" stroke-linecap="round"/>
<line x1="676.72" y1="2172.41" x2="686.16" y2="2171.4" stroke="#3F3F3F" stroke-width="8.2" stroke-linecap="round"/>
<line x1="757.28" y1="2163.82" x2="766.73" y2="2162.81" stroke="#3F3F3F" stroke-width="8.2" stroke-linecap="round"/>
<line x1="807" y1="2158.52" x2="816.45" y2="2157.51" stroke="#3F3F3F" stroke-width="8.2" stroke-linecap="round"/>
<line x1="856.72" y1="2153.22" x2="866.16" y2="2152.21" stroke="#3F3F3F" stroke-width="8.2" stroke-linecap="round"/>
<line x1="937.37" y1="2145.73" x2="946.86" y2="2145.22" stroke="#3F3F3F" stroke-width="8.2" stroke-linecap="round"/>
<line x1="987.3" y1="2150.13" x2="996.79" y2="2149.62" stroke="#3F3F3F" stroke-width="8.2" stroke-linecap="round"/>
<line x1="1037.23" y1="2147.46" x2="1046.72" y2="2146.95" stroke="#3F3F3F" stroke-width="8.2" stroke-linecap="round"/>
<line x1="1116.69" y1="2131.86" x2="1125.87" y2="2129.41" stroke="#3F3F3F" stroke-width="8.2" stroke-linecap="round"/>
<line x1="1165.01" y1="2118.98" x2="1174.19" y2="2116.53" stroke="#3F3F3F" stroke-width="8.2" stroke-linecap="round"/>
<line x1="1213.32" y1="2106.1" x2="1222.5" y2="2103.66" stroke="#3F3F3F" stroke-width="8.2" stroke-linecap="round"/>
<line x1="1289.04" y1="2072.54" x2="1294.74" y2="2064.94" stroke="#3F3F3F" stroke-width="8.2" stroke-linecap="round"/>
<line x1="1319.05" y1="2032.55" x2="1324.75" y2="2024.95" stroke="#3F3F3F" stroke-width="8.2" stroke-linecap="round"/>
<line x1="1349.05" y1="1992.55" x2="1354.76" y2="1984.95" stroke="#3F3F3F" stroke-width="8.2" stroke-linecap="round"/>
<line x1="1379.06" y1="1952.56" x2="1384.76" y2="1944.96" stroke="#3F3F3F" stroke-width="8.2" stroke-linecap="round"/>
<line x1="1409.07" y1="1912.56" x2="1414.77" y2="1904.96" stroke="#3F3F3F" stroke-width="8.2" stroke-linecap="round"/>
<line x1="1439.07" y1="1872.56" x2="1443.96" y2="1866.05" stroke="#3F3F3F" stroke-width="8.2" stroke-linecap="round"/>
<line x1="1470.8" y1="1834.09" x2="1477.3" y2="1827.16" stroke="#3F3F3F" stroke-width="8.2" stroke-linecap="round"/>
<line x1="1505" y1="1797.62" x2="1511.5" y2="1790.69" stroke="#3F3F3F" stroke-width="8.2" stroke-linecap="round"/>
<line x1="1539.2" y1="1761.15" x2="1545.7" y2="1754.22" stroke="#3F3F3F" stroke-width="8.2" stroke-linecap="round"/>
<line x1="1573.4" y1="1724.68" x2="1579.9" y2="1717.75" stroke="#3F3F3F" stroke-width="8.2" stroke-linecap="round"/>
<line x1="1607.61" y1="1688.2" x2="1614.11" y2="1681.27" stroke="#3F3F3F" stroke-width="8.2" stroke-linecap="round"/>
<line x1="1649.04" y1="1640.68" x2="1654.74" y2="1633.08" stroke="#3F3F3F" stroke-width="8.2" stroke-linecap="round"/>
<line x1="1679.05" y1="1600.68" x2="1684.75" y2="1593.08" stroke="#3F3F3F" stroke-width="8.2" stroke-linecap="round"/>
<line x1="1709.05" y1="1560.69" x2="1714.76" y2="1553.09" stroke="#3F3F3F" stroke-width="8.2" stroke-linecap="round"/>
<line x1="1739.06" y1="1520.69" x2="1744.76" y2="1513.09" stroke="#3F3F3F" stroke-width="8.2" stroke-linecap="round"/>
<line x1="1769.07" y1="1480.69" x2="1774.77" y2="1473.1" stroke="#3F3F3F" stroke-width="8.2" stroke-linecap="round"/>
<line x1="1799.07" y1="1440.7" x2="1803.96" y2="1434.19" stroke="#3F3F3F" stroke-width="8.2" stroke-linecap="round"/>
<line x1="1834.94" y1="1407.64" x2="1843.33" y2="1403.17" stroke="#3F3F3F" stroke-width="8.2" stroke-linecap="round"/>
<line x1="1879.06" y1="1384.11" x2="1887.45" y2="1379.64" stroke="#3F3F3F" stroke-width="8.2" stroke-linecap="round"/>
<line x1="1923.18" y1="1360.59" x2="1931.57" y2="1356.12" stroke="#3F3F3F" stroke-width="8.2" stroke-linecap="round"/>
<line x1="1967.3" y1="1337.07" x2="1975.69" y2="1332.6" stroke="#3F3F3F" stroke-width="8.2" stroke-linecap="round"/>
<polygon points="196.5,2187.02 213.9,2204.42 196.5,2221.82 179.1,2204.42" fill="#3F3F3F"/>
<polygon points="376.5,2177.43 393.9,2194.83 376.5,2212.23 359.1,2194.83" fill="#3F3F3F"/>
<polygon points="556.5,2167.83 573.9,2185.23 556.5,2202.63 539.1,2185.23" fill="#3F3F3F"/>
<polygon points="736.5,2148.64 753.9,2166.04 736.5,2183.44 719.1,2166.04" fill="#3F3F3F"/>
<polygon points="916.5,2129.44 933.9,2146.84 916.5,2164.24 899.1,2146.84" fill="#3F3F3F"/>
<polygon points="1096.5,2119.84 1113.9,2137.24 1096.5,2154.64 1079.1,2137.24" fill="#3F3F3F"/>
<polygon points="1276.5,2071.86 1293.9,2089.26 1276.5,2106.66 1259.1,2089.26" fill="#3F3F3F"/>
<polygon points="1456.5,1831.93 1473.9,1849.33 1456.5,1866.73 1439.1,1849.33" fill="#3F3F3F"/>
<polygon points="1636.5,1639.99 1653.9,1657.39 1636.5,1674.8 1619.1,1657.39" fill="#3F3F3F"/>
<polygon points="1816.5,1400.07 1833.9,1417.47 1816.5,1434.87 1799.1,1417.47" fill="#3F3F3F"/>
<polygon points="1996.5,1304.1 2013.9,1321.5 1996.5,1338.9 1979.1,1321.5" fill="#3F3F3F"/>
</g>
<line x1="196.5" y1="1316.8" x2="196.5" y2="2293.6" stroke="#000" stroke-width="8.6"/>
<line x1="176" y1="2289.3" x2="2008.8" y2="2289.3" stroke="#000" stroke-width="8.6"/>
<line x1="176" y1="2289.3" x2="196.5" y2="2289.3" stroke="#000" stroke-width="8.6"/>
<line x1="187" y1="2240.89" x2="196.5" y2="2240.89" stroke="#000" stroke-width="8.6"/>
<line x1="176" y1="2192.48" x2="196.5" y2="2192.48" stroke="#000" stroke-width="8.6"/>
<line x1="187" y1="2144.07" x2="196.5" y2="2144.07" stroke="#000" stroke-width="8.6"/>
<line x1="176" y1="2095.66" x2="196.5" y2="2095.66" stroke="#000" stroke-width="8.6"/>
<line x1="187" y1="2047.25" x2="196.5" y2="2047.25" stroke="#000" stroke-width="8.6"/>
<line x1="176" y1="1998.84" x2="196.5" y2="1998.84" stroke="#000" stroke-width="8.6"/>
<line x1="187" y1="1950.43" x2="196.5" y2="1950.43" stroke="#000" stroke-width="8.6"/>
<line x1="176" y1="1902.02" x2="196.5" y2="1902.02" stroke="#000" stroke-width="8.6"/>
<line x1="187" y1="1853.61" x2="196.5" y2="1853.61" stroke="#000" stroke-width="8.6"/>
<line x1="176" y1="1805.2" x2="196.5" y2="1805.2" stroke="#000" stroke-width="8.6"/>
<line x1="187" y1="1756.79" x2="196.5" y2="1756.79" stroke="#000" stroke-width="8.6"/>
<line x1="176" y1="1708.38" x2="196.5" y2="1708.38" stroke="#000" stroke-width="8.6"/>
<line x1="187" y1="1659.97" x2="196.5" y2="1659.97" stroke="#000" stroke-width="8.6"/>
<line x1="176" y1="1611.56" x2="196.5" y2="1611.56" stroke="#000" stroke-width="8.6"/>
<line x1="187" y1="1563.15" x2="196.5" y2="1563.15" stroke="#000" stroke-width="8.6"/>
<line x1="176" y1="1514.74" x2="196.5" y2="1514.74" stroke="#000" stroke-width="8.6"/>
<line x1="187" y1="1466.33" x2="196.5" y2="1466.33" stroke="#000" stroke-width="8.6"/>
<line x1="176" y1="1417.92" x2="196.5" y2="1417.92" stroke="#000" stroke-width="8.6"/>
<line x1="187" y1="1369.51" x2="196.5" y2="1369.51" stroke="#000" stroke-width="8.6"/>
<line x1="176" y1="1321.1" x2="196.5" y2="1321.1" stroke="#000" stroke-width="8.6"/>
<line x1="196.5" y1="2289.3" x2="196.5" y2="2309.8" stroke="#000" stroke-width="8.6"/>
<line x1="377.3" y1="2289.3" x2="377.3" y2="2309.8" stroke="#000" stroke-width="8.6"/>
<line x1="558.1" y1="2289.3" x2="558.1" y2="2309.8" stroke="#000" stroke-width="8.6"/>
<line x1="738.9" y1="2289.3" x2="738.9" y2="2309.8" stroke="#000" stroke-width="8.6"/>
<line x1="919.7" y1="2289.3" x2="919.7" y2="2309.8" stroke="#000" stroke-width="8.6"/>
<line x1="1100.5" y1="2289.3" x2="1100.5" y2="2309.8" stroke="#000" stroke-width="8.6"/>
<line x1="1281.3" y1="2289.3" x2="1281.3" y2="2309.8" stroke="#000" stroke-width="8.6"/>
<line x1="1462.1" y1="2289.3" x2="1462.1" y2="2309.8" stroke="#000" stroke-width="8.6"/>
<line x1="1642.9" y1="2289.3" x2="1642.9" y2="2309.8" stroke="#000" stroke-width="8.6"/>
<line x1="1823.7" y1="2289.3" x2="1823.7" y2="2309.8" stroke="#000" stroke-width="8.6"/>
<line x1="2004.5" y1="2289.3" x2="2004.5" y2="2309.8" stroke="#000" stroke-width="8.6"/>
<text x="160.5" y="2308.6" text-anchor="end" class="tl">0</text>
<text x="160.5" y="2211.78" text-anchor="end" class="tl">10</text>
<text x="160.5" y="2114.96" text-anchor="end" class="tl">20</text>
<text x="160.5" y="2018.14" text-anchor="end" class="tl">30</text>
<text x="160.5" y="1921.32" text-anchor="end" class="tl">40</text>
<text x="160.5" y="1824.5" text-anchor="end" class="tl">50</text>
<text x="160.5" y="1727.68" text-anchor="end" class="tl">60</text>
<text x="160.5" y="1630.86" text-anchor="end" class="tl">70</text>
<text x="160.5" y="1534.04" text-anchor="end" class="tl">80</text>
<text x="160.5" y="1437.22" text-anchor="end" class="tl">90</text>
<text x="160.5" y="1340.4" text-anchor="end" class="tl">100</text>
<text x="196.5" y="2374" text-anchor="middle" class="tl">0.075</text>
<text x="377.3" y="2374" text-anchor="middle" class="tl">0.15</text>
<text x="558.1" y="2374" text-anchor="middle" class="tl">0.3</text>
<text x="738.9" y="2374" text-anchor="middle" class="tl">0.6</text>
<text x="919.7" y="2374" text-anchor="middle" class="tl">1.18</text>
<text x="1100.5" y="2374" text-anchor="middle" class="tl">2.36</text>
<text x="1281.3" y="2374" text-anchor="middle" class="tl">4.75</text>
<text x="1462.1" y="2374" text-anchor="middle" class="tl">9.5</text>
<text x="1642.9" y="2374" text-anchor="middle" class="tl">13.2</text>
<text x="1823.7" y="2374" text-anchor="middle" class="tl">16</text>
<text x="2004.5" y="2374" text-anchor="middle" class="tl">19</text>
<text transform="translate(1044,2463.2) scale(0.982,1)" text-anchor="middle" class="at">Aggregate size (mm)</text>
<text transform="translate(66.8,1802.8) rotate(-90)" text-anchor="middle" class="at">Passing percentage (%)</text>
<text x="1050.5" y="2552.3" text-anchor="middle" class="pl" letter-spacing="2">(b)</text>
<line x1="275" y1="1371.1" x2="407" y2="1371.1" stroke="#EE3D3E" stroke-width="8.8" stroke-linecap="round"/>
<rect x="328.7" y="1358.8" width="24.6" height="24.6" fill="#EE3D3E"/>
<text x="421" y="1391.1" class="lg">0-year</text>
<line x1="275" y1="1445.2" x2="407" y2="1445.2" stroke="#1A6EE0" stroke-width="8.8" stroke-linecap="round"/>
<circle cx="339.5" cy="1444.7" r="13.5" fill="#1A6EE0"/>
<text x="421" y="1465.2" class="lg">1-year</text>
<line x1="275" y1="1519.3" x2="407" y2="1519.3" stroke="#33AC66" stroke-width="8.8" stroke-linecap="round"/>
<polygon points="339.5,1498.61 355.25,1525.89 323.75,1525.89" fill="#33AC66"/>
<text x="421" y="1539.3" class="lg">14-year</text>
<line x1="274.5" y1="1593.4" x2="284" y2="1593.4" stroke="#3F3F3F" stroke-width="9.2" stroke-linecap="round"/>
<line x1="325.5" y1="1593.4" x2="334" y2="1593.4" stroke="#3F3F3F" stroke-width="9.2" stroke-linecap="round"/>
<line x1="354.5" y1="1593.4" x2="363.5" y2="1593.4" stroke="#3F3F3F" stroke-width="9.2" stroke-linecap="round"/>
<line x1="405.5" y1="1593.4" x2="406.5" y2="1593.4" stroke="#3F3F3F" stroke-width="9.2" stroke-linecap="round"/>
<polygon points="323.95,1582.31 355.45,1582.31 339.7,1609.59" fill="#3F3F3F"/>
<text x="421" y="1613.4" class="lg">Upper limit</text>
<line x1="274.5" y1="1667.5" x2="284" y2="1667.5" stroke="#3F3F3F" stroke-width="9.2" stroke-linecap="round"/>
<line x1="325.5" y1="1667.5" x2="334" y2="1667.5" stroke="#3F3F3F" stroke-width="9.2" stroke-linecap="round"/>
<line x1="354.5" y1="1667.5" x2="363.5" y2="1667.5" stroke="#3F3F3F" stroke-width="9.2" stroke-linecap="round"/>
<line x1="405.5" y1="1667.5" x2="406.5" y2="1667.5" stroke="#3F3F3F" stroke-width="9.2" stroke-linecap="round"/>
<polygon points="339.7,1647.6 357.1,1665 339.7,1682.4 322.3,1665" fill="#3F3F3F"/>
<text x="421" y="1687.5" class="lg">Lower limit</text>
</svg></body></html>
